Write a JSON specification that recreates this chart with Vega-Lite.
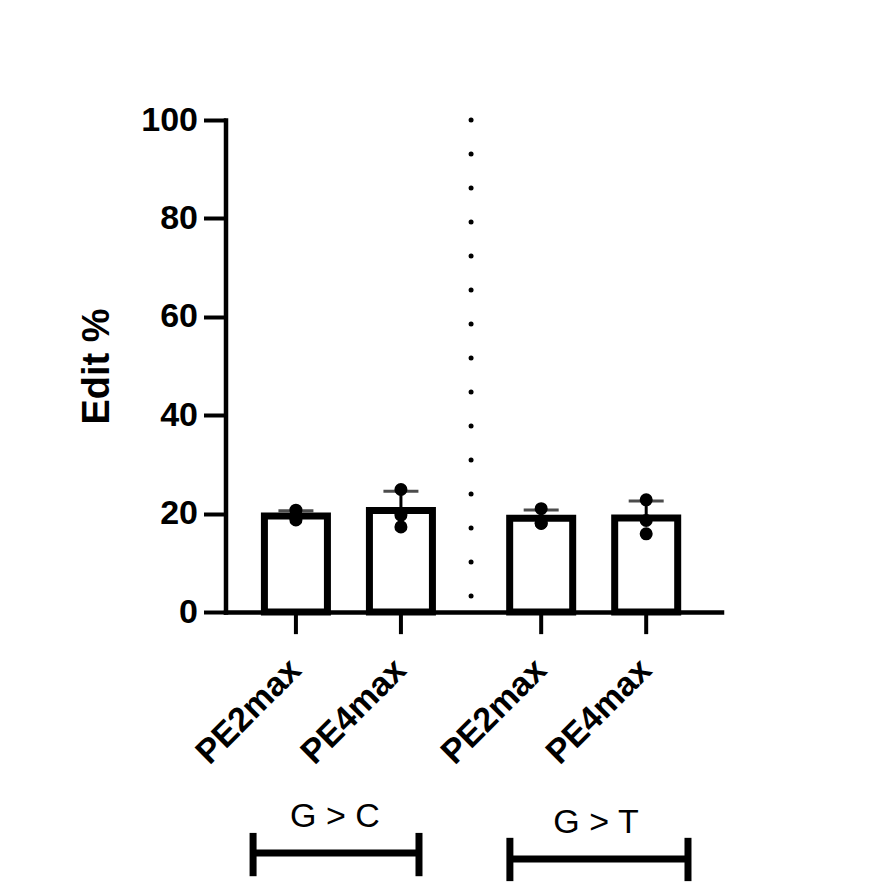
{
  "$schema": "https://vega.github.io/schema/vega-lite/v6.json",
  "width": 496,
  "height": 492,
  "autosize": "none",
  "padding": {"left": 225.5, "top": 120, "right": 169.5, "bottom": 271},
  "config": {
    "view": {"stroke": null},
    "font": "Liberation Sans",
    "axisX": {"labels": false, "ticks": false, "domain": true, "domainWidth": 4.5, "domainColor": "black", "domainCap": "square", "grid": false, "title": null},
    "axisY": {"domainWidth": 4.5, "domainColor": "black", "domainCap": "square", "tickWidth": 4, "tickSize": 22, "tickColor": "black", "grid": false, "labelFont": "Liberation Sans", "labelFontSize": 34, "labelFontWeight": "bold", "labelColor": "black", "labelPadding": 6, "titleFont": "Liberation Sans", "titleFontSize": 38, "titleFontWeight": "bold", "titleColor": "black", "titlePadding": 24}
  },
  "data": {
    "values": [
      {"group": "G > C", "enzyme": "PE2max", "value": 18.7},
      {"group": "G > C", "enzyme": "PE2max", "value": 20.7},
      {"group": "G > C", "enzyme": "PE2max", "value": 19.2},
      {"group": "G > C", "enzyme": "PE4max", "value": 24.9},
      {"group": "G > C", "enzyme": "PE4max", "value": 19.7},
      {"group": "G > C", "enzyme": "PE4max", "value": 17.3},
      {"group": "G > T", "enzyme": "PE2max", "value": 21.0},
      {"group": "G > T", "enzyme": "PE2max", "value": 18.0},
      {"group": "G > T", "enzyme": "PE2max", "value": 18.1},
      {"group": "G > T", "enzyme": "PE4max", "value": 22.8},
      {"group": "G > T", "enzyme": "PE4max", "value": 18.6},
      {"group": "G > T", "enzyme": "PE4max", "value": 15.9}
    ]
  },
  "layer": [
    {
      "mark": {"type": "errorbar", "extent": "stdev", "thickness": 3, "color": "black", "ticks": {"size": 35, "thickness": 3, "color": "black"}},
      "encoding": {
        "x": {"field": "group", "type": "nominal", "title": null, "scale": {"type": "band", "domain": ["G > C", "G > T"], "paddingInner": 0.1437, "paddingOuter": 0.083, "align": 0.44}},
        "xOffset": {"field": "enzyme", "type": "nominal", "scale": {"domain": ["PE2max", "PE4max"], "paddingInner": 0.4, "paddingOuter": 0.2}},
        "y": {"field": "value", "type": "quantitative", "title": "Edit %", "scale": {"domain": [0, 100], "nice": false, "zero": true}, "axis": {"values": [0, 20, 40, 60, 80, 100]}}
      }
    },
    {
      "mark": {"type": "bar", "fill": "white", "stroke": "black", "strokeWidth": 7, "strokeJoin": "miter"},
      "encoding": {
        "x": {"field": "group", "type": "nominal", "title": null},
        "xOffset": {"field": "enzyme", "type": "nominal"},
        "y": {"aggregate": "mean", "field": "value", "type": "quantitative", "title": "Edit %"}
      }
    },
    {
      "mark": {"type": "point", "filled": true, "shape": "circle", "size": 170, "color": "black", "opacity": 1},
      "encoding": {
        "x": {"field": "group", "type": "nominal", "title": null},
        "xOffset": {"field": "enzyme", "type": "nominal"},
        "y": {"field": "value", "type": "quantitative", "title": "Edit %"}
      }
    },
    {
      "transform": [{"aggregate": [{"op": "count", "as": "n"}], "groupby": ["group", "enzyme"]}],
      "mark": {"type": "rule", "strokeWidth": 4, "color": "black"},
      "encoding": {
        "x": {"field": "group", "type": "nominal", "title": null},
        "xOffset": {"field": "enzyme", "type": "nominal"},
        "y": {"datum": 0, "type": "quantitative", "title": "Edit %"},
        "y2": {"datum": -4.5}
      }
    },
    {
      "transform": [{"aggregate": [{"op": "count", "as": "n"}], "groupby": ["group", "enzyme"]}],
      "mark": {"type": "text", "angle": 315, "align": "right", "baseline": "middle", "fontSize": 34, "fontWeight": "bold", "font": "Liberation Sans", "color": "black"},
      "encoding": {
        "x": {"field": "group", "type": "nominal", "title": null},
        "xOffset": {"field": "enzyme", "type": "nominal"},
        "y": {"datum": -10.8, "type": "quantitative", "title": "Edit %"},
        "text": {"field": "enzyme"}
      }
    },
    {
      "data": {"values": [{}]},
      "mark": {"type": "rule", "strokeDash": [0.1, 33.9], "strokeCap": "round", "strokeWidth": 5, "color": "black"},
      "encoding": {
        "x": {"datum": "G > C", "type": "nominal", "bandPosition": 1.084, "title": null},
        "y": {"datum": 100, "type": "quantitative", "title": "Edit %"},
        "y2": {"datum": 2}
      }
    },
    {
      "data": {"values": [{}]},
      "mark": {"type": "text", "text": "G > C", "fontSize": 34, "font": "Liberation Sans", "align": "center", "baseline": "alphabetic", "color": "black"},
      "encoding": {
        "x": {"datum": "G > C", "type": "nominal", "bandPosition": 0.436, "title": null},
        "y": {"datum": -43.7, "type": "quantitative", "title": "Edit %"}
      }
    },
    {
      "data": {"values": [{}]},
      "mark": {"type": "rule", "strokeWidth": 7, "color": "black"},
      "encoding": {
        "x": {"datum": "G > C", "type": "nominal", "bandPosition": 0.046, "title": null},
        "x2": {"datum": "G > C", "bandPosition": 0.836},
        "y": {"datum": -49, "type": "quantitative", "title": "Edit %"}
      }
    },
    {
      "data": {"values": [{}]},
      "mark": {"type": "rule", "strokeWidth": 7, "color": "black"},
      "encoding": {
        "x": {"datum": "G > C", "type": "nominal", "bandPosition": 0.046, "title": null},
        "y": {"datum": -44.9, "type": "quantitative", "title": "Edit %"},
        "y2": {"datum": -53.7}
      }
    },
    {
      "data": {"values": [{}]},
      "mark": {"type": "rule", "strokeWidth": 7, "color": "black"},
      "encoding": {
        "x": {"datum": "G > C", "type": "nominal", "bandPosition": 0.836, "title": null},
        "y": {"datum": -44.9, "type": "quantitative", "title": "Edit %"},
        "y2": {"datum": -53.7}
      }
    },
    {
      "data": {"values": [{}]},
      "mark": {"type": "text", "text": "G > T", "fontSize": 34, "font": "Liberation Sans", "align": "center", "baseline": "alphabetic", "color": "black"},
      "encoding": {
        "x": {"datum": "G > T", "type": "nominal", "bandPosition": 0.511, "title": null},
        "y": {"datum": -44.9, "type": "quantitative", "title": "Edit %"}
      }
    },
    {
      "data": {"values": [{}]},
      "mark": {"type": "rule", "strokeWidth": 7, "color": "black"},
      "encoding": {
        "x": {"datum": "G > T", "type": "nominal", "bandPosition": 0.101, "title": null},
        "x2": {"datum": "G > T", "bandPosition": 0.949},
        "y": {"datum": -50.2, "type": "quantitative", "title": "Edit %"}
      }
    },
    {
      "data": {"values": [{}]},
      "mark": {"type": "rule", "strokeWidth": 7, "color": "black"},
      "encoding": {
        "x": {"datum": "G > T", "type": "nominal", "bandPosition": 0.101, "title": null},
        "y": {"datum": -45.9, "type": "quantitative", "title": "Edit %"},
        "y2": {"datum": -54.7}
      }
    },
    {
      "data": {"values": [{}]},
      "mark": {"type": "rule", "strokeWidth": 7, "color": "black"},
      "encoding": {
        "x": {"datum": "G > T", "type": "nominal", "bandPosition": 0.949, "title": null},
        "y": {"datum": -45.9, "type": "quantitative", "title": "Edit %"},
        "y2": {"datum": -54.7}
      }
    }
  ]
}
